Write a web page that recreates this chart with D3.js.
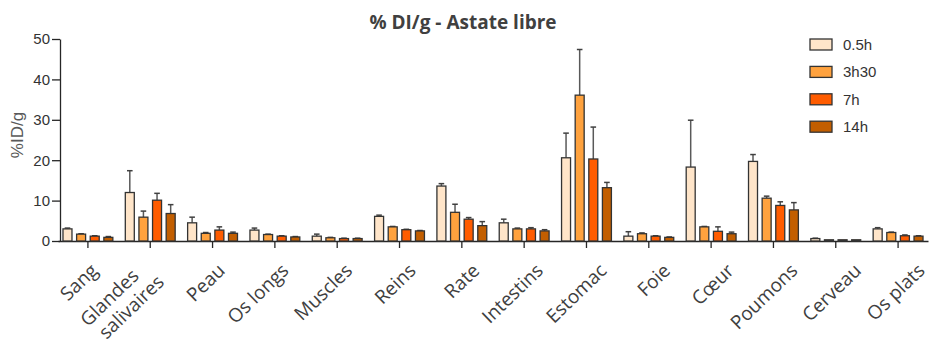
<!DOCTYPE html>
<html>
<head>
<meta charset="utf-8">
<script src="https://cdn.jsdelivr.net/npm/d3@7"></script>
<style>
  html, body { margin: 0; padding: 0; background: #fff; }
  svg { display: block; }
</style>
</head>
<body>
<svg id="chart" width="932" height="349"></svg>
<script>
// ---------- data ----------
const categories = ["Sang", "Glandes salivaires", "Peau", "Os longs", "Muscles", "Reins", "Rate",
  "Intestins", "Estomac", "Foie", "Cœur", "Poumons", "Cerveau", "Os plats"];
const seriesNames = ["0.5h", "3h30", "7h", "14h"];

const values_05h  = [3.0, 12.0, 4.5, 2.7, 1.2, 6.1, 13.6, 4.5, 20.6, 1.2, 18.3, 19.7, 0.6, 3.0];
const values_3h30 = [1.7, 5.9, 1.9, 1.6, 0.8, 3.5, 7.1, 3.0, 36.1, 1.8, 3.5, 10.6, 0.3, 2.1];
const values_7h   = [1.2, 10.1, 2.7, 1.2, 0.6, 2.8, 5.4, 3.0, 20.3, 1.2, 2.4, 8.8, 0.3, 1.3];
const values_14h  = [0.9, 6.8, 1.9, 1.0, 0.6, 2.5, 3.8, 2.5, 13.2, 0.9, 1.8, 7.7, 0.3, 1.2];

const errors_05h  = [0.2, 5.4, 1.4, 0.5, 0.5, 0.3, 0.6, 0.9, 6.1, 1.1, 11.6, 1.7, 0.1, 0.3];
const errors_3h30 = [0.1, 1.5, 0.2, 0.1, 0.1, 0.1, 2.0, 0.2, 11.3, 0.2, 0.1, 0.5, 0.0, 0.1];
const errors_7h   = [0.1, 1.7, 0.8, 0.1, 0.1, 0.1, 0.4, 0.3, 7.9, 0.1, 1.1, 0.9, 0.0, 0.2];
const errors_14h  = [0.2, 2.2, 0.3, 0.1, 0.1, 0.1, 1.0, 0.3, 1.3, 0.1, 0.4, 1.8, 0.0, 0.1];

const yTickValues = [0, 10, 20, 30, 40, 50];
const titleText = "% DI/g - Astate libre";
const yLabelText = "%ID/g";

// ---------- build table ----------
const seriesValues = [values_05h, values_3h30, values_7h, values_14h];
const seriesErrors = [errors_05h, errors_3h30, errors_7h, errors_14h];
const colors = ["#FFE5C9", "#FFA23E", "#FF5C00", "#C25E00"];

const rows = [];
categories.forEach((c, i) => {
  seriesNames.forEach((s, j) => {
    rows.push({cat: c, series: s, j: j, v: seriesValues[j][i], e: seriesErrors[j][i]});
  });
});

// ---------- scales ----------
const svg = d3.select("#chart");
const x0 = d3.scaleBand().domain(categories).range([58, 928]).paddingInner(0.2).paddingOuter(0.08);
const x1 = d3.scaleBand().domain(seriesNames).range([0, x0.bandwidth()]).paddingInner(0.34).paddingOuter(0);
const y = d3.scaleLinear().domain([0, 50]).range([241, 39]);
const labelX = d3.scalePoint().domain(categories).range([99, 926]);

const axisColor = "#262626";

// ---------- y axis ----------
const yAxis = svg.append("g")
  .attr("transform", "translate(60,0)")
  .call(d3.axisLeft(y).tickValues(yTickValues).tickSize(8).tickPadding(2).tickSizeOuter(0));
yAxis.select(".domain").attr("stroke", axisColor).attr("stroke-width", 1.3);
yAxis.selectAll(".tick line").attr("stroke", axisColor).attr("stroke-width", 1.3);
yAxis.selectAll(".tick text")
  .attr("font-family", "'Liberation Sans', Arial, sans-serif")
  .attr("font-size", 15)
  .attr("fill", "#333");

// ---------- x axis ----------
const xAxis = svg.append("g")
  .attr("transform", `translate(0,${y(0)})`)
  .call(d3.axisBottom(x0).tickSize(7).tickSizeOuter(0).tickFormat(""));
xAxis.select(".domain").attr("stroke", axisColor).attr("stroke-width", 1.3);
xAxis.selectAll(".tick line").attr("stroke", axisColor).attr("stroke-width", 1.3);

// x labels
const labelFont = "'Open Sans', 'DejaVu Sans', sans-serif";
const labelSize = 19;
categories.forEach((c) => {
  const g = svg.append("g")
    .attr("transform", `translate(${labelX(c)},272) rotate(-44)`);
  const parts = c === "Glandes salivaires" ? ["Glandes", "salivaires"] : [c];
  const offsets = parts.length === 1 ? [[0, 0]] : [[-20, -12], [-6, 10]];
  parts.forEach((p, k) => {
    g.append("text")
      .attr("x", offsets[k][0]).attr("y", offsets[k][1])
      .attr("text-anchor", "end")
      .attr("font-family", labelFont)
      .attr("font-size", labelSize)
      .attr("fill", "#404040")
      .text(p);
  });
});

// ---------- error bars ----------
const eb = svg.append("g");
rows.forEach(d => {
  const cx = x0(d.cat) + x1(d.series) + x1.bandwidth() / 2;
  if (d.e > 0) {
    eb.append("line")
      .attr("x1", cx).attr("x2", cx)
      .attr("y1", y(d.v)).attr("y2", y(d.v + d.e))
      .attr("stroke", "#595959").attr("stroke-width", 1.5);
    eb.append("line")
      .attr("x1", cx - 2.8).attr("x2", cx + 2.8)
      .attr("y1", y(d.v + d.e)).attr("y2", y(d.v + d.e))
      .attr("stroke", "#404040").attr("stroke-width", 1.5);
  }
});

// ---------- bars ----------
svg.append("g").selectAll("rect")
  .data(rows)
  .join("rect")
  .attr("x", d => x0(d.cat) + x1(d.series))
  .attr("y", d => y(d.v))
  .attr("width", x1.bandwidth())
  .attr("height", d => y(0) - y(d.v))
  .attr("fill", d => colors[d.j])
  .attr("stroke", "#333")
  .attr("stroke-width", 1.3);

// ---------- title ----------
svg.append("text")
  .attr("x", 463).attr("y", 29)
  .attr("text-anchor", "middle")
  .attr("font-family", "'Open Sans', sans-serif")
  .attr("font-weight", "bold")
  .attr("font-size", 19)
  .attr("fill", "#404040")
  .text(titleText);

// ---------- y label ----------
svg.append("text")
  .attr("transform", "translate(23,135) rotate(-90)")
  .attr("text-anchor", "middle")
  .attr("font-family", "'Liberation Sans', Arial, sans-serif")
  .attr("font-size", 17)
  .attr("fill", "#595959")
  .text(yLabelText);

// ---------- legend ----------
const legend = svg.append("g");
seriesNames.forEach((s, j) => {
  const ly = 39 + j * 27.4;
  legend.append("rect")
    .attr("x", 810).attr("y", ly)
    .attr("width", 22).attr("height", 11)
    .attr("fill", colors[j])
    .attr("stroke", "#333").attr("stroke-width", 1.3);
  legend.append("text")
    .attr("x", 843).attr("y", ly + 11)
    .attr("font-family", "'Liberation Sans', Arial, sans-serif")
    .attr("font-size", 15)
    .attr("fill", "#333")
    .text(s);
});
</script>
</body>
</html>
